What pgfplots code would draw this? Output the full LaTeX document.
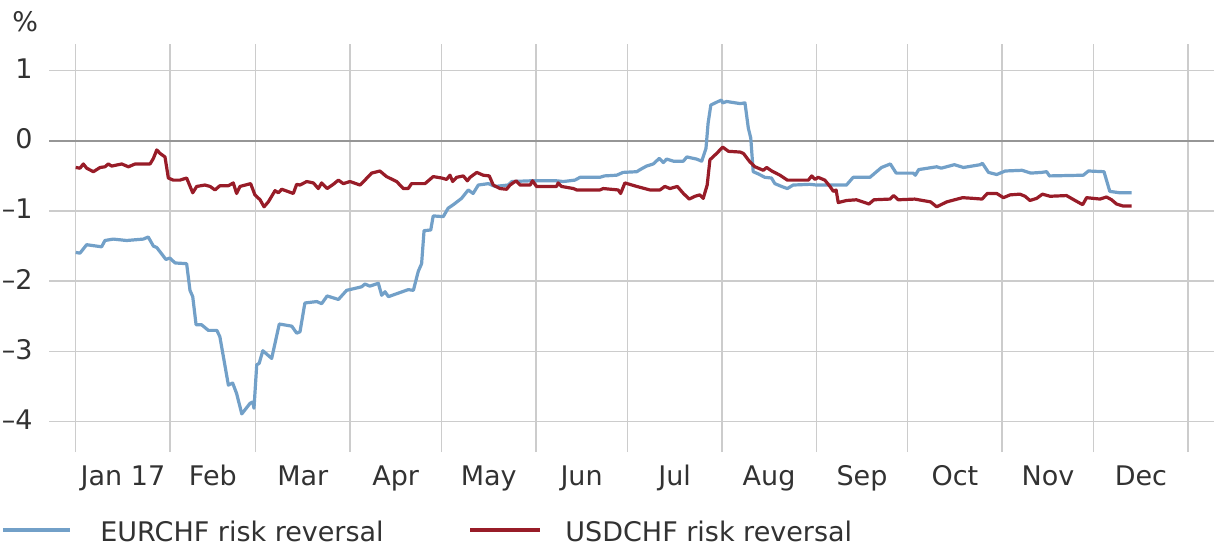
\documentclass[border=0pt]{standalone}
\usepackage{pgfplots}
\usepackage{pgfplotstable}
\pgfplotsset{compat=1.18}
\usepackage{fontspec}
\setmainfont{DejaVu Sans}
\definecolor{eurblue}{RGB}{114,160,200}
\definecolor{usdred}{RGB}{152,28,40}
\definecolor{gridgray}{RGB}{204,204,204}
\definecolor{zerogray}{RGB}{150,150,150}
\definecolor{txt}{RGB}{50,50,50}

\pgfplotstableread{
d v
0 -1.59
1.4 -1.60
3.6 -1.48
8.5 -1.51
9.6 -1.42
12.3 -1.40
16.7 -1.42
22.2 -1.40
23.8 -1.37
25.5 -1.50
26.6 -1.52
29.6 -1.69
30.9 -1.67
32.6 -1.74
36.4 -1.75
37.5 -2.13
38.4 -2.22
39.5 -2.62
41.3 -2.62
43.5 -2.70
46.3 -2.70
47.3 -2.79
50.1 -3.48
51.5 -3.45
52.8 -3.60
54.5 -3.89
57.2 -3.74
58.1 -3.72
58.5 -3.81
59.4 -3.19
60.2 -3.17
61.4 -2.99
64.3 -3.10
66.8 -2.61
70.9 -2.64
72.5 -2.74
73.6 -2.72
75.2 -2.31
79.1 -2.29
80.7 -2.32
82.5 -2.21
86.2 -2.26
88.9 -2.13
93.8 -2.08
94.9 -2.04
96.5 -2.07
99.3 -2.03
100.4 -2.20
101.5 -2.15
102.6 -2.22
109.1 -2.12
110.8 -2.13
112.4 -1.86
113.5 -1.75
114.3 -1.28
116.5 -1.27
117.3 -1.07
120.6 -1.08
122.2 -0.96
123.9 -0.91
126.6 -0.82
128.8 -0.70
130.4 -0.75
132.1 -0.63
135.4 -0.61
137.6 -0.65
141.9 -0.63
143.1 -0.58
149.1 -0.57
157.8 -0.57
160.0 -0.58
163.8 -0.56
165.5 -0.52
172.0 -0.52
173.5 -0.50
177.5 -0.49
179.6 -0.45
184.1 -0.44
185.2 -0.41
187.3 -0.36
189.5 -0.33
191.5 -0.25
192.8 -0.31
193.9 -0.26
196.1 -0.29
199.4 -0.29
200.5 -0.23
203.7 -0.26
205.4 -0.29
206.8 -0.11
207.5 0.25
208.4 0.51
210.8 0.56
211.9 0.58
212.3 0.54
213.6 0.56
218.0 0.53
219.6 0.54
220.7 0.18
221.5 0.04
222.3 -0.44
223.9 -0.47
226.1 -0.52
228.3 -0.53
229.4 -0.61
231.6 -0.65
233.5 -0.68
235.4 -0.63
240.9 -0.62
243.1 -0.63
252.9 -0.63
255.1 -0.52
260.6 -0.52
264.4 -0.38
267.3 -0.33
269.2 -0.46
274.8 -0.46
275.5 -0.49
276.6 -0.41
282.5 -0.37
284.0 -0.39
288.3 -0.34
291.3 -0.38
296.8 -0.34
297.5 -0.32
299.5 -0.45
302.2 -0.48
305.0 -0.43
310.5 -0.42
313.4 -0.46
316.9 -0.45
318.6 -0.44
319.5 -0.50
330.6 -0.49
332.3 -0.43
337.4 -0.44
339.3 -0.72
342.5 -0.74
346.5 -0.74
}\eurdata

\pgfplotstableread{
d v
0 -0.38
1.4 -0.39
2.5 -0.33
3.6 -0.39
5.8 -0.44
8.0 -0.38
9.6 -0.37
10.7 -0.33
11.8 -0.36
15.1 -0.33
17.3 -0.37
19.5 -0.33
24.4 -0.33
25.5 -0.25
26.6 -0.13
27.7 -0.18
29.3 -0.23
30.4 -0.53
32.0 -0.56
34.2 -0.56
36.4 -0.53
38.4 -0.74
39.7 -0.65
42.4 -0.63
44.1 -0.65
45.7 -0.70
47.3 -0.64
50.1 -0.64
51.7 -0.60
52.8 -0.75
53.9 -0.65
57.4 -0.61
58.8 -0.77
60.5 -0.84
61.8 -0.94
63.2 -0.87
65.4 -0.71
66.5 -0.74
67.6 -0.69
71.4 -0.75
72.5 -0.62
73.6 -0.63
75.8 -0.58
78.0 -0.60
79.6 -0.68
80.7 -0.60
82.5 -0.68
84.5 -0.62
86.2 -0.56
87.8 -0.61
90.0 -0.58
93.3 -0.63
94.9 -0.56
97.1 -0.46
99.8 -0.43
102.0 -0.51
105.3 -0.58
107.5 -0.68
109.1 -0.68
110.2 -0.61
114.6 -0.61
117.3 -0.51
120.1 -0.53
121.7 -0.55
122.8 -0.49
123.7 -0.58
125.0 -0.52
127.2 -0.50
128.5 -0.57
129.4 -0.52
131.6 -0.45
133.7 -0.49
135.7 -0.50
137.0 -0.63
139.2 -0.68
141.4 -0.69
142.5 -0.63
144.5 -0.57
145.8 -0.63
149.1 -0.63
149.9 -0.57
151.2 -0.65
157.8 -0.65
158.3 -0.60
159.4 -0.65
163.3 -0.68
164.4 -0.70
172.0 -0.70
173.1 -0.68
178.0 -0.70
178.8 -0.75
180.2 -0.60
184.1 -0.65
188.4 -0.70
191.7 -0.70
193.3 -0.65
195.0 -0.68
197.4 -0.65
199.4 -0.75
201.3 -0.83
203.2 -0.79
204.8 -0.77
205.9 -0.82
207.2 -0.63
208.1 -0.27
210.3 -0.18
212.3 -0.09
214.2 -0.15
218.0 -0.16
219.1 -0.18
221.2 -0.30
222.9 -0.37
225.6 -0.42
226.7 -0.38
228.4 -0.43
231.1 -0.49
233.5 -0.56
235.4 -0.56
240.4 -0.56
241.5 -0.50
242.6 -0.55
243.6 -0.52
245.8 -0.56
247.5 -0.65
248.6 -0.72
249.5 -0.70
250.2 -0.88
252.9 -0.85
256.2 -0.84
260.3 -0.90
261.9 -0.84
267.2 -0.83
268.4 -0.78
269.9 -0.84
275.3 -0.83
280.5 -0.87
282.5 -0.94
285.8 -0.87
291.0 -0.81
294.5 -0.82
297.4 -0.83
299.1 -0.75
302.2 -0.75
304.4 -0.81
306.6 -0.77
309.8 -0.76
311.5 -0.79
313.1 -0.85
315.3 -0.82
317.2 -0.76
319.7 -0.79
325.1 -0.78
327.5 -0.84
330.4 -0.91
331.7 -0.81
336.1 -0.83
338.2 -0.80
339.9 -0.84
341.5 -0.90
343.7 -0.93
346.5 -0.93
}\usddata

\begin{document}
\begin{tikzpicture}
\useasboundingbox (-24.5pt,-48pt) rectangle (582.5pt,226pt);
\begin{axis}[
  at={(0pt,0pt)}, anchor=south west,
  scale only axis, width=582.5pt, height=204.25pt,
  xmin=-8.76, xmax=373.5, ymin=-4.433, ymax=1.386,
  axis line style={draw=none}, tick style={draw=none},
  major tick length=0pt,
  xtick={0,31,59,90,120,151,181,212,243,273,304,334,365},
  xticklabels={},
  extra x ticks={15.5,45,74.5,105,135.5,166,196.5,227.5,258,288.5,319,349.5},
  extra x tick labels={Jan 17,Feb,Mar,Apr,May,Jun,Jul,Aug,Sep,Oct,Nov,Dec},
  extra x tick style={grid=none},
  xticklabel style={anchor=base, yshift=-16.5pt},
  xmajorgrids, ymajorgrids,
  grid style={gridgray, line width=0.75pt},
  ytick={-4,-3,-2,-1,0,1},
  yticklabels={–4,–3,–2,–1,0,1},
  yticklabel style={anchor=east, inner sep=0pt, xshift=-8pt, yshift=1pt},
  extra y ticks={0}, extra y tick labels={},
  extra y tick style={grid=major, grid style={zerogray, line width=1.1pt}},
  ticklabel style={font=\fontsize{13.5}{16}\selectfont, text=txt},
]
\addplot[eurblue, line width=1.6pt, line join=round] table[x=d, y=v] {\eurdata};
\addplot[usdred, line width=1.6pt, line join=round] table[x=d, y=v] {\usddata};
\end{axis}
\node[anchor=base west, inner sep=0pt, text=txt, font=\fontsize{13.5}{16}\selectfont] at (-18.5pt,210.5pt) {\%};
\draw[eurblue, line width=1.6pt] (-23pt,-39pt) -- (10.5pt,-39pt);
\node[anchor=base west, inner sep=0pt, text=txt, font=\fontsize{13.5}{16}\selectfont] at (25.5pt,-44.5pt) {EURCHF risk reversal};
\draw[usdred, line width=1.6pt] (210.5pt,-39pt) -- (245.5pt,-39pt);
\node[anchor=base west, inner sep=0pt, text=txt, font=\fontsize{13.5}{16}\selectfont] at (258pt,-44.5pt) {USDCHF risk reversal};
\end{tikzpicture}
\end{document}
